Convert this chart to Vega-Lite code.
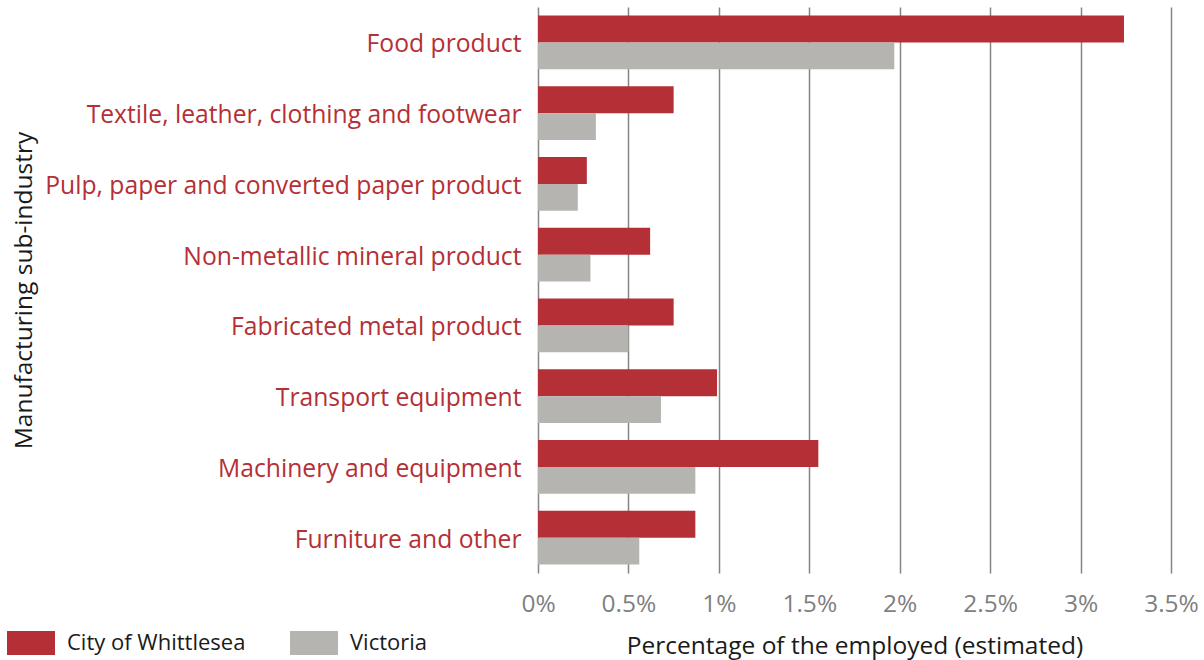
{
  "$schema": "https://vega.github.io/schema/vega-lite/v6.json",
  "width": 633,
  "height": 566,
  "autosize": {"type": "none"},
  "padding": {"left": 538, "top": 7, "right": 33, "bottom": 87},
  "background": "white",
  "config": {"font": "Open Sans", "view": {"stroke": null}},
  "data": {
    "values": [
      {"industry": "Food product", "region": "City of Whittlesea", "value": 3.24},
      {"industry": "Food product", "region": "Victoria", "value": 1.97},
      {"industry": "Textile, leather, clothing and footwear", "region": "City of Whittlesea", "value": 0.75},
      {"industry": "Textile, leather, clothing and footwear", "region": "Victoria", "value": 0.32},
      {"industry": "Pulp, paper and converted paper product", "region": "City of Whittlesea", "value": 0.27},
      {"industry": "Pulp, paper and converted paper product", "region": "Victoria", "value": 0.22},
      {"industry": "Non-metallic mineral product", "region": "City of Whittlesea", "value": 0.62},
      {"industry": "Non-metallic mineral product", "region": "Victoria", "value": 0.29},
      {"industry": "Fabricated metal product", "region": "City of Whittlesea", "value": 0.75},
      {"industry": "Fabricated metal product", "region": "Victoria", "value": 0.5},
      {"industry": "Transport equipment", "region": "City of Whittlesea", "value": 0.99},
      {"industry": "Transport equipment", "region": "Victoria", "value": 0.68},
      {"industry": "Machinery and equipment", "region": "City of Whittlesea", "value": 1.55},
      {"industry": "Machinery and equipment", "region": "Victoria", "value": 0.87},
      {"industry": "Furniture and other", "region": "City of Whittlesea", "value": 0.87},
      {"industry": "Furniture and other", "region": "Victoria", "value": 0.56}
    ]
  },
  "mark": {"type": "bar"},
  "encoding": {
    "y": {
      "field": "industry",
      "type": "nominal",
      "sort": null,
      "scale": {"paddingInner": 0.24, "paddingOuter": 0.12},
      "axis": {
        "title": "Manufacturing sub-industry",
        "titleFontSize": 24.5,
        "titleFontWeight": "normal",
        "titleColor": "#1a1a1a",
        "titleX": -507,
        "titleBaseline": "alphabetic",
        "titleAngle": -90,
        "labelFontSize": 24.7,
        "labelColor": "#B52F37",
        "labelPadding": 17,
        "labelOffset": 3,
        "labelLimit": 600,
        "ticks": false,
        "domain": false
      }
    },
    "yOffset": {"field": "region", "type": "nominal", "sort": ["City of Whittlesea", "Victoria"]},
    "x": {
      "field": "value",
      "type": "quantitative",
      "scale": {"domain": [0, 3.5]},
      "axis": {
        "values": [0, 0.5, 1, 1.5, 2, 2.5, 3, 3.5],
        "labelExpr": "datum.value + '%'",
        "labelFlush": false,
        "grid": true,
        "gridColor": "#858585",
        "gridWidth": 1.5,
        "domain": false,
        "ticks": false,
        "labelFontSize": 24.5,
        "labelColor": "#7f7f7f",
        "labelPadding": 19,
        "title": "Percentage of the employed (estimated)",
        "titleFontSize": 24.5,
        "titleFontWeight": "normal",
        "titleColor": "#1a1a1a",
        "titleY": 80,
        "titleBaseline": "alphabetic"
      }
    },
    "color": {
      "field": "region",
      "type": "nominal",
      "scale": {"domain": ["City of Whittlesea", "Victoria"], "range": ["#B52F37", "#B5B4B0"]},
      "legend": {
        "title": null,
        "orient": "none",
        "direction": "horizontal",
        "legendX": -531,
        "legendY": 612,
        "padding": 0,
        "symbolType": "M-1,-0.5H1V0.5H-1Z",
        "symbolSize": 2304,
        "symbolStrokeWidth": 0,
        "symbolOpacity": 1,
        "labelFontSize": 22,
        "labelColor": "#1a1a1a",
        "labelOffset": 12,
        "columnPadding": 44,
        "labelLimit": 400
      }
    }
  }
}
